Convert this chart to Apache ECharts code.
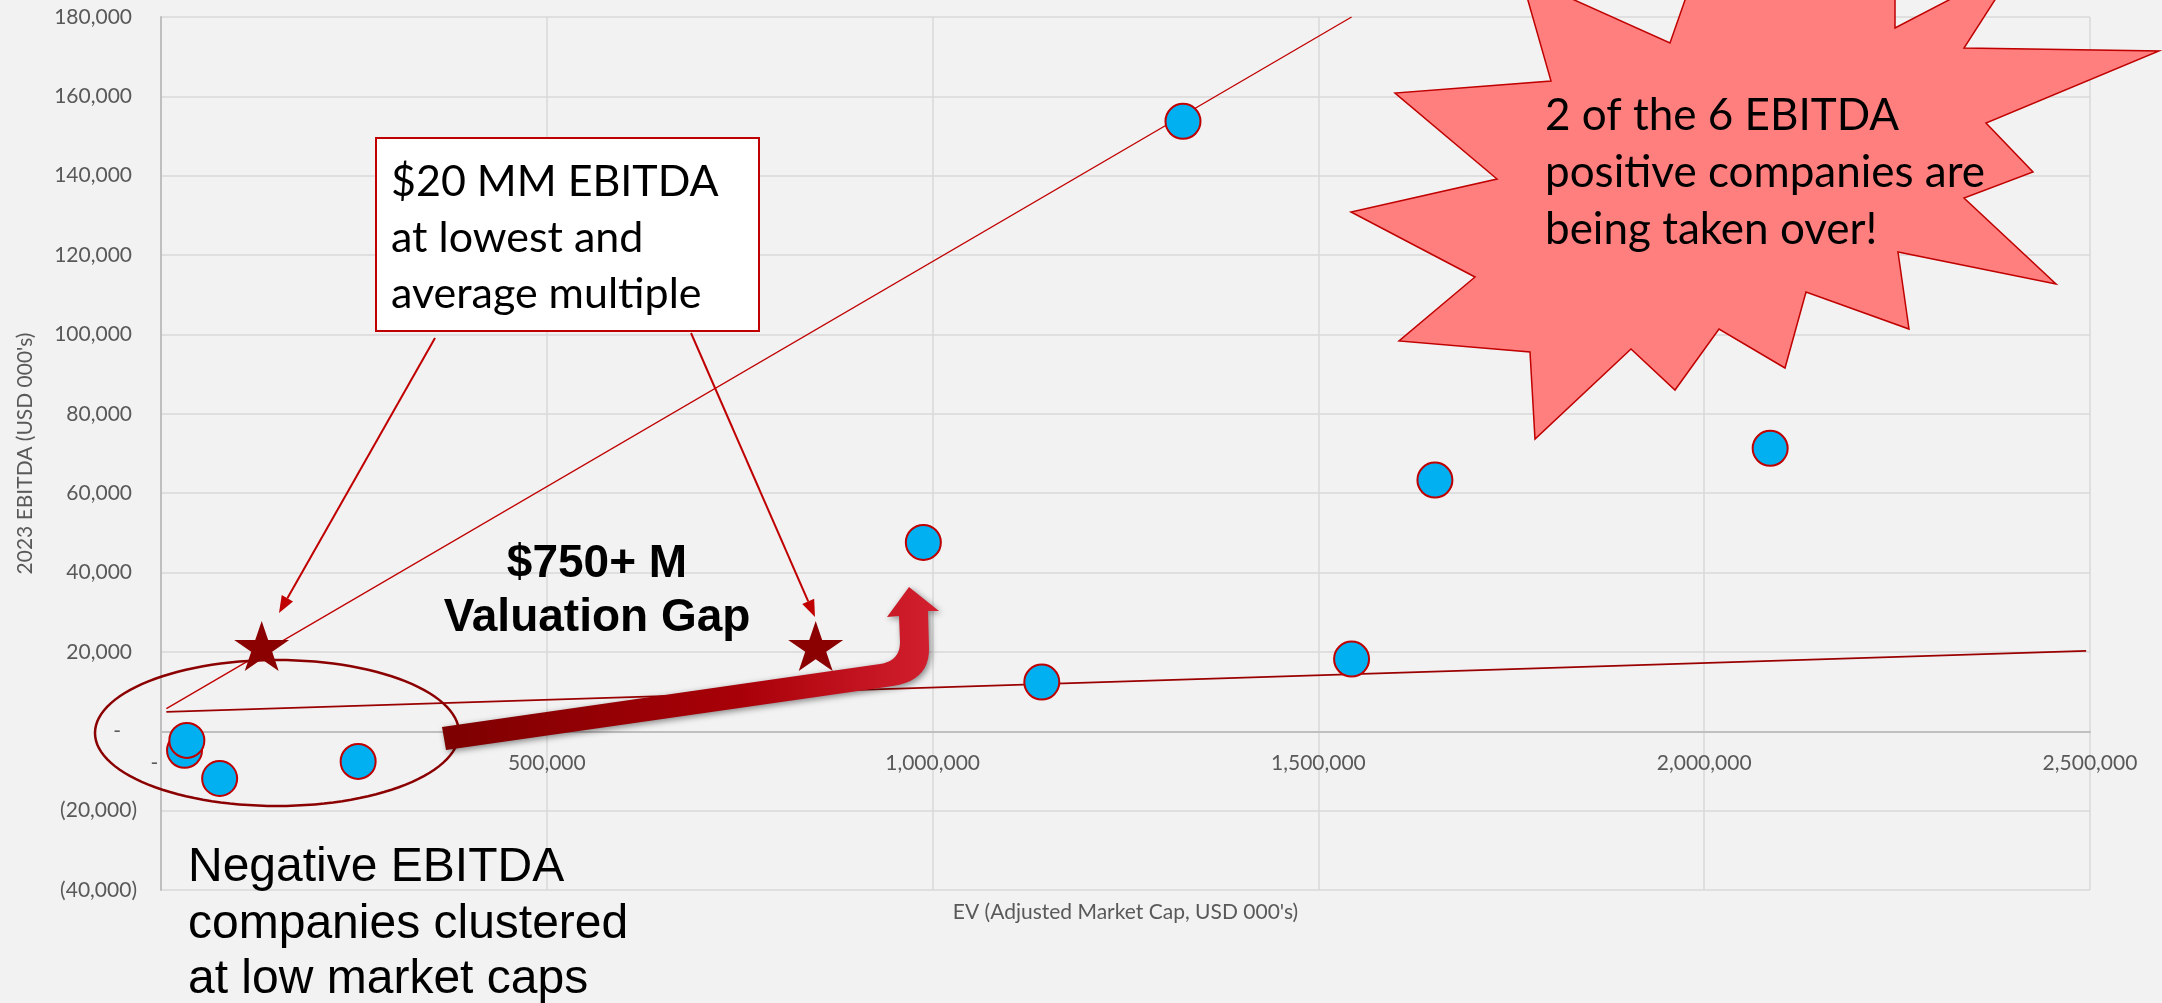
<!DOCTYPE html>
<html>
<head>
<meta charset="utf-8">
<title>EV vs 2023 EBITDA</title>
<script src="https://cdn.jsdelivr.net/npm/echarts@6/dist/echarts.min.js"></script>
<style>
  html, body { margin: 0; padding: 0; background: #f2f2f2; }
  #chart { width: 2162px; height: 1003px; }
</style>
</head>
<body>
<div id="chart"></div>
<script>
// companies: EV and 2023 EBITDA, both USD 000's
var companyEV     = [30500, 33500, 76000, 255500, 988000, 1141500, 1324500, 1543000, 1651000, 2085500];
var companyEBITDA = [-4800, -2300, -11900, -7600, 47600, 12400, 153700, 18200, 63300, 71300];

// $20 MM EBITDA at lowest and average multiple
var starEV     = [130500, 848500];
var starEBITDA = [21500, 21500];

// the two red lines, end points
var steepLineEV     = [7000, 1543000];
var steepLineEBITDA = [5700, 180000];
var flatLineEV      = [7000, 2495000];
var flatLineEBITDA  = [4870, 20250];

// axes
var xMin = 0, xMax = 2500000, xStep = 500000;
var yMin = -40000, yMax = 180000, yStep = 20000;
var xTickLabels = ['-', '500,000', '1,000,000', '1,500,000', '2,000,000', '2,500,000'];
var yTickLabels = ['(40,000)', '(20,000)', '-', '20,000', '40,000', '60,000', '80,000',
                   '100,000', '120,000', '140,000', '160,000', '180,000'];

var xTitle = "EV (Adjusted Market Cap, USD 000's)";
var yTitle = "2023 EBITDA (USD 000's)";
var calloutLines = ['$20 MM EBITDA', 'at lowest and', 'average multiple'];
var burstLines   = ['2 of the 6 EBITDA', 'positive companies are', 'being taken over!'];
var gapLines     = ['$750+ M', 'Valuation Gap'];
var clusterLines = ['Negative EBITDA', 'companies clustered', 'at low market caps'];

function pairs(xs, ys) {
  return xs.map(function (x, i) { return [x, ys[i]]; });
}

var grey = '#595959';
var labelFont = { fontFamily: 'Lato', fontSize: 21, color: grey };

// plot frame in pixels
var gridTop = 17, gridBottom = 113, H = 1003;
var plotH = H - gridTop - gridBottom;
// x axis sits on the zero line
var zeroOffset = -plotH * (0 - yMin) / (yMax - yMin);

function txt(s, x, y, size, family, weight, align) {
  return {
    type: 'text', z: 50, x: x, y: y,
    style: {
      text: s, fill: '#000', fontSize: size, fontFamily: family, fontWeight: weight || 'normal',
      align: align || 'left', verticalAlign: 'middle',
      textAlign: align || 'left', textVerticalAlign: 'middle'
    }
  };
}

function arrowLine(x1, y1, x2, y2) {
  var dx = x2 - x1, dy = y2 - y1, len = Math.sqrt(dx * dx + dy * dy);
  var ux = dx / len, uy = dy / len, hl = 17, hw = 6.5;
  var bx = x2 - ux * hl, by = y2 - uy * hl;
  return [
    { type: 'line', z: 50, shape: { x1: x1, y1: y1, x2: bx, y2: by },
      style: { stroke: '#C00000', lineWidth: 2 } },
    { type: 'polygon', z: 50,
      shape: { points: [[x2, y2], [bx - uy * hw, by + ux * hw], [bx + uy * hw, by - ux * hw]] },
      style: { fill: '#C00000' } }
  ];
}

// quadratic curve points for the big arrow bends
function quad(p0, c, p1) {
  var out = [];
  for (var i = 1; i <= 12; i++) {
    var t = i / 12, a = (1 - t) * (1 - t), b = 2 * (1 - t) * t, d = t * t;
    out.push([a * p0[0] + b * c[0] + d * p1[0], a * p0[1] + b * c[1] + d * p1[1]]);
  }
  return out;
}

var bigArrow = [[442, 727], [880, 664]]
  .concat(quad([880, 664], [900, 661], [900, 642]))
  .concat([[899, 616], [887, 617], [909, 587], [939, 611], [928, 611], [929, 648]])
  .concat(quad([929, 648], [930, 683], [886, 687]))
  .concat([[446, 750]]);

var ellipsePts = [];
for (var k = 0; k < 120; k++) {
  var a = k / 120 * Math.PI * 2;
  ellipsePts.push([277 + 182 * Math.cos(a), 733 + 73 * Math.sin(a)]);
}

var burstPts = [[1521, -24], [1670, 43], [1706, -60], [1895, -60], [1895, 28], [2018, -36],
  [1964, 48], [2159, 51], [1986, 123], [2033, 172], [1964, 198], [2056, 284], [1898, 252],
  [1909, 329], [1806, 292], [1785, 368], [1719, 329], [1675, 390], [1631, 349], [1535, 439],
  [1530, 352], [1399, 341], [1475, 277], [1351, 212], [1497, 179], [1395, 93], [1551, 81]];

var graphics = [
  { type: 'polygon', z: 50, shape: { points: ellipsePts },
    style: { fill: 'none', stroke: '#8B0000', lineWidth: 2.5 } },
  { type: 'polygon', z: 50, shape: { points: burstPts },
    style: { fill: '#FF7F7F', stroke: '#C00000', lineWidth: 1.5 } },
  { type: 'rect', z: 50, shape: { x: 376, y: 138, width: 383, height: 193 },
    style: { fill: '#ffffff', stroke: '#C00000', lineWidth: 2 } },
  { type: 'polygon', z: 52, shape: { points: bigArrow },
    style: {
      fill: new echarts.graphic.LinearGradient(0, 0, 1, 0, [
        { offset: 0, color: '#7d0000' }, { offset: 0.6, color: '#a80008' }, { offset: 1, color: '#d42030' }
      ]),
      shadowBlur: 6, shadowColor: 'rgba(0,0,0,0.45)', shadowOffsetX: 2, shadowOffsetY: 2
    } }
]
  .concat(arrowLine(435, 338, 279, 613))
  .concat(arrowLine(691, 333, 815, 617));

var calloutY = [182, 238, 294];
calloutLines.forEach(function (s, i) { graphics.push(txt(s, 391, calloutY[i], 43, 'Lato')); });
var burstY = [116, 173, 230];
burstLines.forEach(function (s, i) { graphics.push(txt(s, 1545, burstY[i], 44, 'Lato')); });
var gapY = [564, 618];
gapLines.forEach(function (s, i) { graphics.push(txt(s, 597, gapY[i], 46, 'Liberation Sans', 'bold', 'center')); });
var clusterY = [868, 925, 980];
clusterLines.forEach(function (s, i) { graphics.push(txt(s, 188, clusterY[i], 48, 'Liberation Sans')); });

var starPath = 'path://M50,0 L61.2,34.5 L97.6,34.5 L68.2,55.9 L79.4,90.5 L50,69.1 L20.6,90.5 L31.8,55.9 L2.4,34.5 L38.8,34.5 Z';

var chart = echarts.init(document.getElementById('chart'));
chart.setOption({
  animation: false,
  backgroundColor: '#f2f2f2',
  grid: { left: 161, right: 72, top: gridTop, bottom: gridBottom, containLabel: false, outerBoundsMode: 'none' },
  xAxis: {
    type: 'value', min: xMin, max: xMax, interval: xStep,
    offset: zeroOffset,
    axisLine: { show: true, onZero: false, lineStyle: { color: '#bfbfbf', width: 2 } },
    axisTick: { show: false },
    splitLine: { show: true, lineStyle: { color: '#d9d9d9', width: 1.5 } },
    axisLabel: Object.assign({
      margin: 21, showMinLabel: true, showMaxLabel: true,
      formatter: function (v) {
        var s = xTickLabels[Math.round((v - xMin) / xStep)];
        return v === 0 ? '{z|' + s + '}' : s;
      },
      rich: { z: Object.assign({ padding: [0, 13, 0, 0] }, labelFont) }
    }, labelFont),
    name: xTitle, nameLocation: 'middle', nameGap: 170,
    nameTextStyle: labelFont
  },
  yAxis: {
    type: 'value', min: yMin, max: yMax, interval: yStep,
    axisLine: { show: true, onZero: false, lineStyle: { color: '#bfbfbf', width: 2 } },
    axisTick: { show: false },
    splitLine: { show: true, lineStyle: { color: '#d9d9d9', width: 1.5 } },
    axisLabel: Object.assign({
      margin: 24, showMinLabel: true, showMaxLabel: true,
      formatter: function (v) {
        var s = yTickLabels[Math.round((v - yMin) / yStep)];
        if (v < 0) return s;
        if (v === 0) return '{z|' + s + '}';
        return '{p|' + s + '}';
      },
      rich: {
        p: Object.assign({ padding: [0, 5, 0, 0] }, labelFont),
        z: Object.assign({ padding: [0, 16, 0, 0] }, labelFont)
      }
    }, labelFont),
    name: yTitle, nameLocation: 'middle', nameGap: 125,
    nameTextStyle: labelFont
  },
  series: [
    { type: 'line', z: 3, silent: true, symbol: 'none', data: pairs(steepLineEV, steepLineEBITDA),
      lineStyle: { color: '#C00000', width: 1.3 } },
    { type: 'line', z: 3, silent: true, symbol: 'none', data: pairs(flatLineEV, flatLineEBITDA),
      lineStyle: { color: '#9B0000', width: 1.8 } },
    { type: 'scatter', z: 55, data: pairs(companyEV, companyEBITDA), symbolSize: 35,
      itemStyle: { color: '#00B0F0', borderColor: '#C00000', borderWidth: 2, opacity: 1 } },
    { type: 'scatter', z: 60, data: pairs(starEV, starEBITDA), symbol: starPath, symbolSize: [55, 50],
      itemStyle: { color: '#8B0000', opacity: 1 } }
  ],
  graphic: graphics
});
</script>
</body>
</html>
